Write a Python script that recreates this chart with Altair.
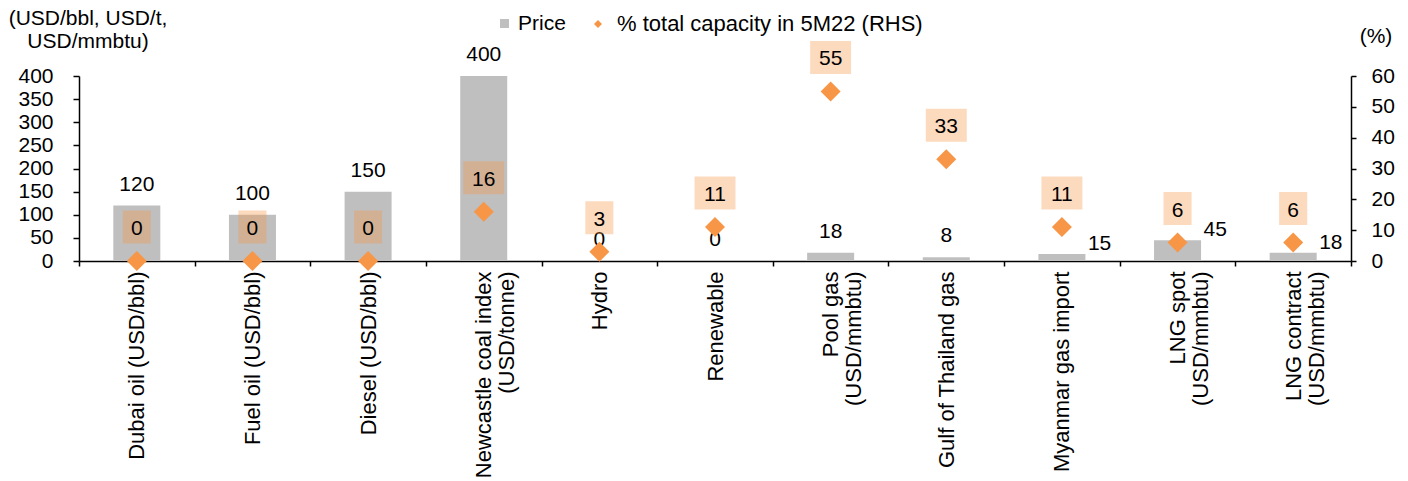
import altair as alt
import pandas as pd

# Fuel / source categories ("|" separates the lines of a two-line label)
categories = [
    "Dubai oil (USD/bbl)",
    "Fuel oil (USD/bbl)",
    "Diesel (USD/bbl)",
    "Newcastle coal index|(USD/tonne)",
    "Hydro",
    "Renewable",
    "Pool gas|(USD/mmbtu)",
    "Gulf of Thailand gas",
    "Myanmar gas import",
    "LNG spot|(USD/mmbtu)",
    "LNG contract|(USD/mmbtu)",
]
# Price (USD/bbl, USD/t, USD/mmbtu) - left axis
price = [120, 100, 150, 400, 0, 0, 18, 8, 15, 45, 18]
# % of total capacity in 5M22 - right axis
capacity_share = [0, 0, 0, 16, 3, 11, 55, 33, 11, 6, 6]

left_ticks = [0, 50, 100, 150, 200, 250, 300, 350, 400]
right_ticks = [0, 10, 20, 30, 40, 50, 60]

# Arial advance widths (1/1000 em), used to centre the lines of two-line labels
_W = {" ": 278, "(": 333, ")": 333, "/": 278, "\u00a0": 278}
_W.update(dict(zip("ABCDEFGHIJKLMNOPQRSTUVWXYZ",
                   [667, 667, 722, 722, 667, 611, 778, 722, 278, 500, 667, 556, 833,
                    722, 778, 667, 778, 722, 667, 611, 722, 667, 944, 667, 667, 611])))
_W.update(dict(zip("abcdefghijklmnopqrstuvwxyz",
                   [556, 556, 500, 556, 556, 278, 556, 556, 222, 222, 500, 222, 833,
                    556, 556, 556, 556, 333, 500, 278, 556, 500, 722, 500, 500, 500])))


def _width(s):
    return sum(_W.get(c, 556) for c in s)


def centred(label):
    lines = label.split("|")
    widest = max(_width(l) for l in lines)
    return "|".join(l + "\u00a0" * round((widest - _width(l)) / 2 / 278) for l in lines)


cats = [centred(c) for c in categories]
df = pd.DataFrame({"cat": cats, "price": price, "share": capacity_share})

# price labels that sit beside their bar instead of above it
beside = [cats[i] for i in (8, 9, 10)]

FONT = "Liberation Sans"
FS = 21
GREY = "#BFBFBF"
ORANGE = "#F79646"

x = alt.X(
    "cat:N",
    sort=None,
    title=None,
    scale=alt.Scale(paddingInner=0, paddingOuter=0),
    axis=alt.Axis(
        labelAngle=270,
        labelAlign="right",
        labelBaseline="middle",
        labelExpr="split(datum.label, '|')",
        labelLineHeight=23,
        labelPadding=5,
        labelLimit=400,
        labelFontSize=22,
        labelColor="black",
        tickBand="extent",
        tickSize=5,
        tickColor="black",
        domainColor="black",
        domainWidth=1.5,
        tickWidth=1.5,
    ),
)

y_left = alt.Y(
    "price:Q",
    scale=alt.Scale(domain=[0, 400], nice=False),
    axis=alt.Axis(
        values=left_ticks,
        orient="left",
        grid=False,
        tickSize=6,
        tickColor="black",
        tickWidth=1.5,
        domainColor="black",
        domainWidth=1.5,
        labelPadding=20,
        labelFontSize=FS,
        labelColor="black",
        title=["(USD/bbl, USD/t,", "USD/mmbtu)"],
        titleAngle=0,
        titleAlign="center",
        titleBaseline="alphabetic",
        titleX=8.5,
        titleY=-52,
        titleLineHeight=23,
        titleFontSize=FS,
        titleFontWeight="normal",
        titleColor="black",
    ),
)

y_right = alt.Y(
    "share:Q",
    scale=alt.Scale(domain=[0, 60], nice=False),
    axis=alt.Axis(
        values=right_ticks,
        orient="right",
        grid=False,
        tickSize=5,
        tickColor="black",
        tickWidth=1.5,
        domainColor="black",
        domainWidth=1.5,
        labelPadding=15,
        labelFontSize=FS,
        labelColor="black",
        title="(%)",
        titleAngle=0,
        titleAlign="center",
        titleBaseline="alphabetic",
        titleX=24.5,
        titleY=-34,
        titleFontSize=FS,
        titleFontWeight="normal",
        titleColor="black",
    ),
)

base = alt.Chart(df)

bars = base.mark_bar(size=47).transform_calculate(series="'Price'").encode(
    x=x,
    y=y_left,
    color=alt.Color(
        "series:N",
        scale=alt.Scale(domain=["Price"], range=[GREY]),
        legend=alt.Legend(
            orient="none", legendX=415, legendY=-63, title=None,
            symbolType="square", symbolSize=81, symbolStrokeWidth=0,
            symbolOpacity=1, labelFontSize=FS, labelColor="black",
            labelOffset=3, padding=0,
        ),
    ),
)

price_top = base.mark_text(fontSize=FS, baseline="alphabetic", dy=-15).encode(
    x=x, y=y_left, text="price:Q"
).transform_filter(alt.FieldOneOfPredicate(field="cat", oneOf=beside).__invert__())

price_side = base.mark_text(fontSize=FS, align="left", baseline="middle", dx=26, dy=-10).encode(
    x=x, y=y_left, text="price:Q"
).transform_filter(alt.FieldOneOfPredicate(field="cat", oneOf=beside))

left_layer = alt.layer(bars, price_top, price_side)

narrow_box = "M-0.85,-1H0.85V1H-0.85Z"
wide_box = "M-1.24,-1H1.24V1H-1.24Z"

boxes = base.mark_point(
    filled=True, size=1089, color=ORANGE, opacity=0.35, yOffset=-34, strokeWidth=0
).encode(
    x=x,
    y=y_right,
    shape=alt.condition("datum.share >= 10", alt.value(wide_box), alt.value(narrow_box)),
)

box_text = base.mark_text(fontSize=FS, baseline="middle", dy=-32).encode(
    x=x, y=y_right, text="share:Q"
)

diamonds = base.mark_point(
    shape="diamond", filled=True, size=400, opacity=1, strokeWidth=0
).transform_calculate(series="'% total capacity in 5M22 (RHS)'").encode(
    x=x,
    y=y_right,
    color=alt.Color(
        "series:N",
        scale=alt.Scale(domain=["% total capacity in 5M22 (RHS)"], range=[ORANGE]),
        legend=alt.Legend(
            orient="none", legendX=508, legendY=-63, title=None,
            symbolType="diamond", symbolSize=64, symbolStrokeWidth=0,
            symbolOpacity=1, labelFontSize=22, labelColor="black",
            labelOffset=8, padding=0, labelLimit=500,
        ),
    ),
)

right_layer = alt.layer(boxes, box_text, diamonds)

chart = (
    alt.layer(left_layer, right_layer)
    .resolve_scale(y="independent", color="independent")
    .properties(
        width=1272,
        height=185,
        autosize=alt.AutoSizeParams(type="none"),
        padding={"left": 79, "top": 76, "right": 57, "bottom": 220},
    )
    .configure(font=FONT)
    .configure_view(stroke=None)
    .configure_text(font=FONT, color="black")
    .configure_axis(labelFont=FONT, titleFont=FONT)
    .configure_legend(labelFont=FONT)
)

chart.save("out.html", embed_options={"renderer": "svg", "actions": False})
